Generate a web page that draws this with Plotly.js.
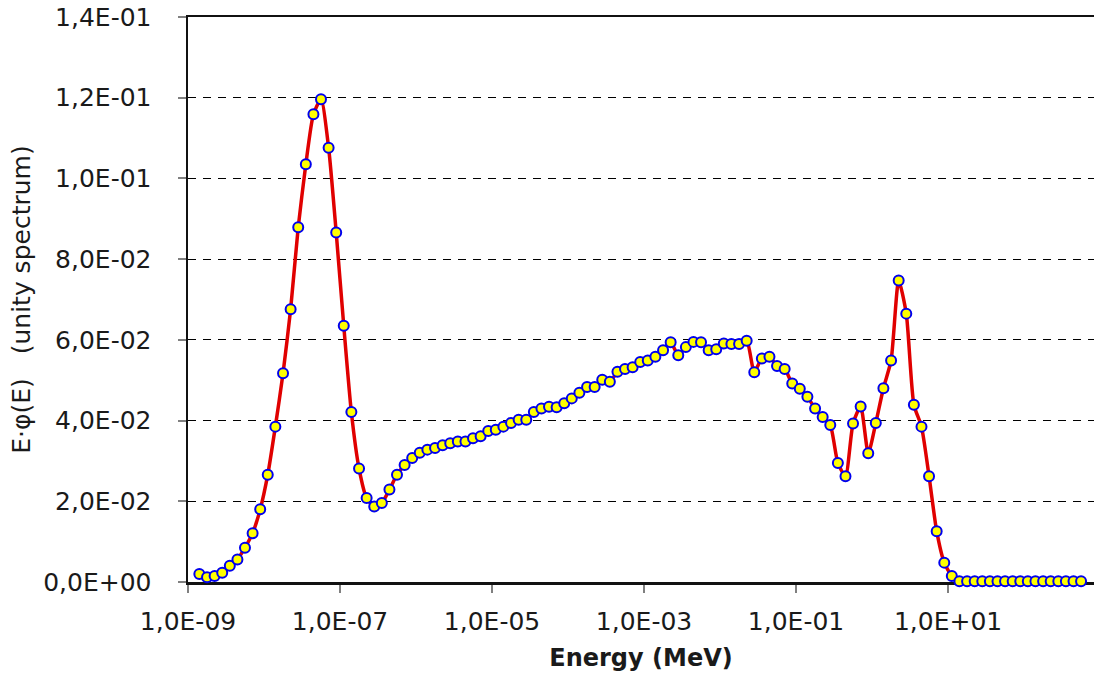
<!DOCTYPE html>
<html>
<head>
<meta charset="utf-8">
<script src="https://cdn.plot.ly/plotly-3.0.1.min.js"></script>
<style>html,body{margin:0;padding:0;background:#fff;}#chart{width:1094px;height:677px;}</style>
</head>
<body>
<div id="chart"></div>
<script>
// Energy grid (MeV), ten points per decade
const energy = [
  1.41e-9, 1.78e-9, 2.24e-9, 2.82e-9, 3.55e-9, 4.47e-9, 5.62e-9, 7.08e-9, 8.91e-9,
  1.12e-8, 1.41e-8, 1.78e-8, 2.24e-8, 2.82e-8, 3.55e-8, 4.47e-8, 5.62e-8, 7.08e-8, 8.91e-8,
  1.12e-7, 1.41e-7, 1.78e-7, 2.24e-7, 2.82e-7, 3.55e-7, 4.47e-7, 5.62e-7, 7.08e-7, 8.91e-7,
  1.12e-6, 1.41e-6, 1.78e-6, 2.24e-6, 2.82e-6, 3.55e-6, 4.47e-6, 5.62e-6, 7.08e-6, 8.91e-6,
  1.12e-5, 1.41e-5, 1.78e-5, 2.24e-5, 2.82e-5, 3.55e-5, 4.47e-5, 5.62e-5, 7.08e-5, 8.91e-5,
  1.12e-4, 1.41e-4, 1.78e-4, 2.24e-4, 2.82e-4, 3.55e-4, 4.47e-4, 5.62e-4, 7.08e-4, 8.91e-4,
  1.12e-3, 1.41e-3, 1.78e-3, 2.24e-3, 2.82e-3, 3.55e-3, 4.47e-3, 5.62e-3, 7.08e-3, 8.91e-3,
  1.12e-2, 1.41e-2, 1.78e-2, 2.24e-2, 2.82e-2, 3.55e-2, 4.47e-2, 5.62e-2, 7.08e-2, 8.91e-2,
  1.12e-1, 1.41e-1, 1.78e-1, 2.24e-1, 2.82e-1, 3.55e-1, 4.47e-1, 5.62e-1, 7.08e-1, 8.91e-1,
  1.12, 1.41, 1.78, 2.24, 2.82, 3.55, 4.47, 5.62, 7.08, 8.91,
  11.2, 14.1, 17.8, 22.4, 28.2, 35.5, 44.7, 56.2, 70.8, 89.1,
  112, 141, 178, 224, 282, 355, 447, 562
];

// E·φ(E), unity spectrum
const flux = [
  0.0020, 0.0012, 0.0015, 0.0023, 0.0040, 0.0056, 0.0085, 0.0121, 0.0180,
  0.0266, 0.0385, 0.0517, 0.0676, 0.0879, 0.1035, 0.1159, 0.1196, 0.1076, 0.0866,
  0.0635, 0.0421, 0.0281, 0.0208, 0.0187, 0.0196, 0.0229, 0.0266, 0.0290, 0.0307,
  0.0320, 0.0328, 0.0332, 0.0339, 0.0344, 0.0348, 0.0348, 0.0356, 0.0361, 0.0374,
  0.0377, 0.0385, 0.0394, 0.0402, 0.0402, 0.0421, 0.0430, 0.0434, 0.0433, 0.0443,
  0.0455, 0.0469, 0.0483, 0.0483, 0.0501, 0.0496, 0.0521, 0.0528, 0.0532, 0.0545,
  0.0549, 0.0558, 0.0574, 0.0594, 0.0562, 0.0582, 0.0595, 0.0594, 0.0574, 0.0577,
  0.0591, 0.0590, 0.0590, 0.0598, 0.0520, 0.0554, 0.0558, 0.0535, 0.0528, 0.0492,
  0.0479, 0.0459, 0.0430, 0.0409, 0.0389, 0.0295, 0.0262, 0.0393, 0.0435, 0.0319,
  0.0394, 0.0480, 0.0549, 0.0747, 0.0665, 0.0439, 0.0385, 0.0262, 0.0126, 0.0048,
  0.0015, 0.0002, 0.0002, 0.0002, 0.0002, 0.0002, 0.0002, 0.0002, 0.0002, 0.0002,
  0.0002, 0.0002, 0.0002, 0.0002, 0.0002, 0.0002, 0.0002, 0.0002
];

const xTickVals = [1e-9, 1e-7, 1e-5, 1e-3, 1e-1, 1e1];
const xTickText = ["1,0E-09", "1,0E-07", "1,0E-05", "1,0E-03", "1,0E-01", "1,0E+01"];
const yTickVals = [0, 0.02, 0.04, 0.06, 0.08, 0.10, 0.12, 0.14];
const yTickText = ["0,0E+00", "2,0E-02", "4,0E-02", "6,0E-02", "8,0E-02", "1,0E-01", "1,2E-01", "1,4E-01"];

const font = "DejaVu Sans, Verdana, sans-serif";

const trace = {
  x: energy,
  y: flux,
  type: "scatter",
  mode: "lines+markers",
  line: {color: "#e00000", width: 3.5, shape: "spline", smoothing: 0.6},
  marker: {size: 10, color: "#ffff00", line: {color: "#0000ee", width: 2}},
  cliponaxis: false,
  hoverinfo: "x+y"
};

const layout = {
  width: 1094,
  height: 677,
  margin: {l: 188, r: 0, t: 17, b: 95},
  paper_bgcolor: "#ffffff",
  plot_bgcolor: "#ffffff",
  showlegend: false,
  font: {family: font, color: "#1a1a1a", size: 25},
  xaxis: {
    type: "log",
    range: [-9, 2.92],
    tickvals: xTickVals,
    ticktext: xTickText,
    ticks: "outside",
    ticklen: 8,
    tickwidth: 2,
    tickcolor: "#808080",
    showgrid: false,
    zeroline: false,
    showline: true,
    linecolor: "#111111",
    linewidth: 2.5,
    mirror: true,
    layer: "below traces",
    tickfont: {family: font, size: 25, color: "#1a1a1a"},
    ticklabelstandoff: 7,
    title: {text: "<b>Energy (MeV)</b>", font: {family: font, size: 24, color: "#1a1a1a"}},
    automargin: false
  },
  yaxis: {
    range: [0, 0.14],
    tickvals: yTickVals,
    ticktext: yTickText,
    ticks: "outside",
    ticklen: 8,
    tickwidth: 2,
    tickcolor: "#808080",
    showgrid: true,
    gridcolor: "#000000",
    gridwidth: 1,
    griddash: "8px,7px",
    zeroline: false,
    showline: true,
    linecolor: "#111111",
    linewidth: 2.5,
    layer: "below traces",
    tickfont: {family: font, size: 25, color: "#1a1a1a"},
    ticklabelstandoff: 21,
    title: {text: "E\u00B7\u03C6(E)\u00A0\u00A0\u00A0(unity spectrum)", font: {family: font, size: 25, color: "#1a1a1a"}, standoff: 6},
    automargin: true
  }
};

Plotly.newPlot("chart", [trace], layout, {displayModeBar: false, staticPlot: true});
</script>
</body>
</html>
